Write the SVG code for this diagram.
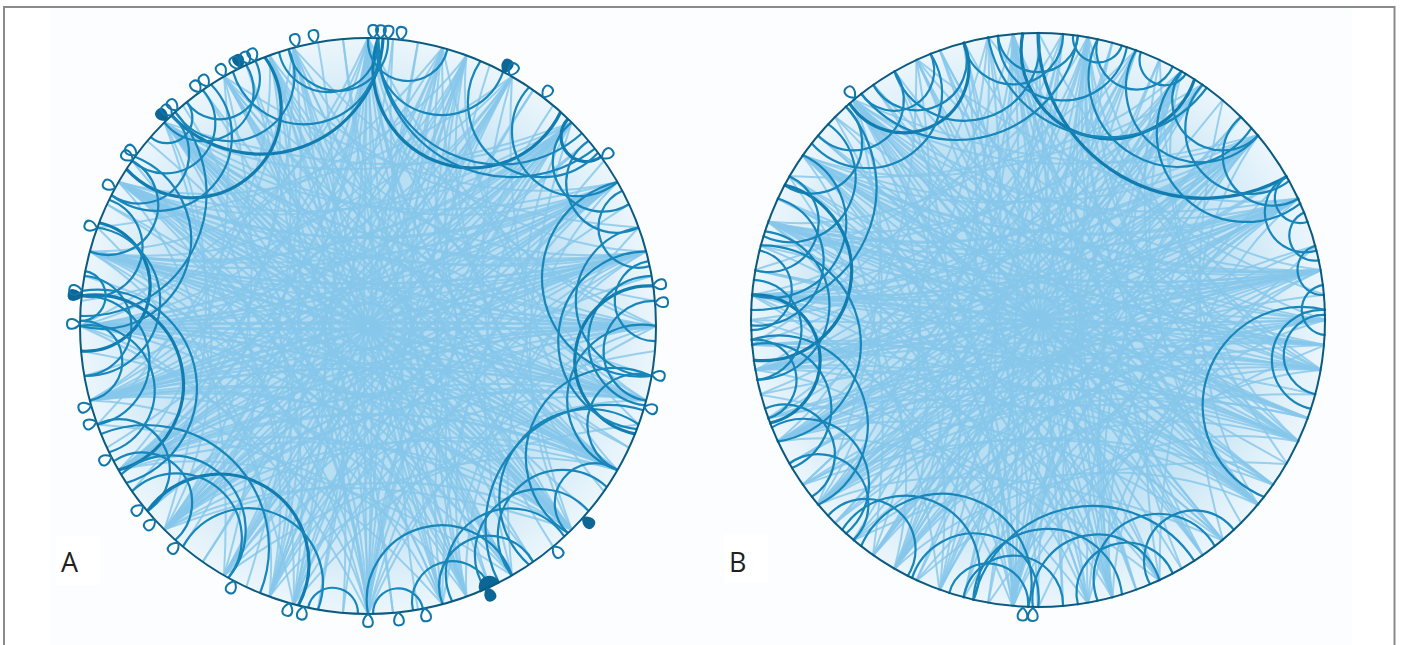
<svg xmlns="http://www.w3.org/2000/svg" width="1402" height="645" viewBox="0 0 1402 645">
<style>
.ch{fill:none;stroke:#86c7ea;stroke-width:2;stroke-opacity:.82}
.dk{fill:none;stroke:#1786ba;stroke-width:2.2}
.dk3{fill:none;stroke:#107cb0;stroke-width:3.2}
.lp{fill:none;stroke:#0f76a9;stroke-width:2}
.lpf{fill:#0d6796;stroke:#0d6796;stroke-width:2}
.rim{fill:none;stroke:#0b5a80;stroke-width:2}
.lbl{font-family:"Open Sans","Liberation Sans",sans-serif;font-size:27px;fill:#231f20}
</style>
<defs>
<radialGradient id="gBase" cx="0" cy="0" r="288" gradientUnits="userSpaceOnUse">
<stop offset="0" stop-color="#8ccaeb" stop-opacity=".75"/>
<stop offset=".65" stop-color="#93cdec" stop-opacity=".6"/>
<stop offset="1" stop-color="#aad8f1" stop-opacity=".2"/>
</radialGradient>
<g id="fan" class="ch">
<path d="M288,0Q0,0 -249.4,144"/>
<path d="M288,0Q10,-5 -278.2,-74.6"/>
<path d="M288,0Q30,20 -144,249.4"/>
<path d="M288,0Q20,-25 -144,-249.4"/>
<path d="M288,0Q70,25 -74.6,278.2"/>
<path d="M288,0Q60,-30 -74.6,-278.2"/>
<path d="M288,0Q0,8 -288,0"/>
<path d="M288,0Q40,10 -203.6,203.6"/>
<path d="M288,0Q40,-15 -203.6,-203.6"/>
<path d="M288,0Q110,45 0,288"/>
<path d="M278.2,74.6Q0,10 -278.2,74.6"/>
<path d="M249.4,144Q-10,0 -249.4,-144"/>
<path d="M278.2,-74.6Q20,0 -203.6,203.6"/>
<path d="M288,0Q120,-50 0,-288"/>
</g>
<path id="d10" d="M-25.1,-286.9A25.2,25.2 0 0 0 25.1,-286.9"/>
<path id="d16" d="M-40.1,-285.2A40.2,40.2 0 0 0 40.1,-285.2"/>
<path id="d20" d="M-50,-283.6A50.1,50.1 0 0 0 50,-283.6"/>
<path id="d26" d="M-64.8,-280.6A65,65 0 0 0 64.8,-280.6"/>
<path id="d30" d="M-74.5,-278.2A74.7,74.7 0 0 0 74.5,-278.2"/>
<path id="d36" d="M-89,-273.9A89.2,89.2 0 0 0 89,-273.9"/>
<path id="d40" d="M-98.5,-270.6A98.7,98.7 0 0 0 98.5,-270.6"/>
<path id="o46" d="M-112.5,-265.1A122.3,122.3 0 0 0 112.5,-265.1"/>
<path id="o50" d="M-121.7,-261A134.3,134.3 0 0 0 121.7,-261"/>
<path id="o60" d="M-144,-249.4A166.3,166.3 0 0 0 144,-249.4"/>
<path id="dot" d="M-10,-287.8A10,10 0 0 0 10,-287.8Z"/>
<path id="lpath" d="M0,-288C-7,-294 -6,-301 0,-301C6,-301 7,-294 0,-288"/>
</defs>

<rect x="0" y="0" width="1402" height="645" fill="#ffffff"/>
<rect x="50" y="8" width="1302" height="637" fill="#fcfdfe"/>
<rect x="4" y="7" width="1390.5" height="660" fill="none" stroke="#8a8a8a" stroke-width="2"/>

<g id="panel-A" transform="translate(368,326)">
<circle r="288" fill="url(#gBase)"/>
<g id="A-chords">
<use href="#fan"/>
<use href="#fan" transform="rotate(15)"/>
<use href="#fan" transform="rotate(165)"/>
<use href="#fan" transform="rotate(180)"/>
<use href="#fan" transform="rotate(195)"/>
<use href="#fan" transform="rotate(345)"/>
<use href="#fan" transform="rotate(270)"/>
<use href="#fan" transform="rotate(90)"/>
<use href="#fan" transform="rotate(250)"/>
<use href="#fan" transform="rotate(290)"/>
<use href="#fan" transform="rotate(45)"/>
<use href="#fan" transform="rotate(135)"/>
<use href="#fan" transform="rotate(225)"/>
<use href="#fan" transform="rotate(315)"/>
<use href="#fan" transform="rotate(110)"/>
<use href="#fan" transform="rotate(70)"/>
<use href="#fan" transform="rotate(30)"/>
<use href="#fan" transform="rotate(210)"/>
<use href="#fan" transform="rotate(150)"/>
<use href="#fan" transform="rotate(330)"/>
</g>
<g id="A-arcs">
<use href="#o46" class="dk3" transform="rotate(-20)"/>
<use href="#d30" class="dk" transform="rotate(-13)"/>
<use href="#d20" class="dk" transform="rotate(-8)"/>
<use href="#d26" class="dk" transform="rotate(15)"/>
<use href="#d40" class="dk3" transform="rotate(22)"/>
<use href="#o50" class="dk" transform="rotate(27)"/>
<use href="#d16" class="dk" transform="rotate(8)"/>
<use href="#d20" class="dk" transform="rotate(-6)"/>
<use href="#o46" class="dk" transform="rotate(25)"/>
<use href="#d20" class="dk" transform="rotate(-45)"/>
<use href="#d20" class="dk" transform="rotate(-35)"/>
<use href="#d26" class="dk" transform="rotate(-29)"/>
<use href="#d36" class="dk3" transform="rotate(-39)"/>
<use href="#d16" class="dk" transform="rotate(-31)"/>
<use href="#d20" class="dk" transform="rotate(-53)"/>
<use href="#d10" class="dk" transform="rotate(-44)"/>
<use href="#d30" class="dk" transform="rotate(-48)"/>
<use href="#d20" class="dk" transform="rotate(-90)"/>
<use href="#d26" class="dk3" transform="rotate(-82)"/>
<use href="#d26" class="dk" transform="rotate(-97)"/>
<use href="#d36" class="dk" transform="rotate(-72)"/>
<use href="#d20" class="dk" transform="rotate(-74)"/>
<use href="#d36" class="dk3" transform="rotate(-102)"/>
<use href="#o46" class="dk" transform="rotate(-65)"/>
<use href="#d20" class="dk" transform="rotate(-65)"/>
<use href="#d16" class="dk" transform="rotate(-97)"/>
<use href="#d26" class="dk" transform="rotate(-103)"/>
<use href="#d40" class="dk" transform="rotate(-103)"/>
<use href="#d10" class="dk" transform="rotate(-84)"/>
<use href="#d30" class="dk" transform="rotate(-85)"/>
<use href="#d20" class="dk" transform="rotate(-120)"/>
<use href="#d30" class="dk" transform="rotate(-136)"/>
<use href="#d36" class="dk3" transform="rotate(-148)"/>
<use href="#d26" class="dk" transform="rotate(-138)"/>
<use href="#d30" class="dk" transform="rotate(-155)"/>
<use href="#o46" class="dk" transform="rotate(-135)"/>
<use href="#d20" class="dk" transform="rotate(-128)"/>
<use href="#d10" class="dk" transform="rotate(174)"/>
<use href="#d10" class="dk" transform="rotate(-173)"/>
<use href="#d16" class="dk" transform="rotate(163)"/>
<use href="#d20" class="dk" transform="rotate(155)"/>
<use href="#d30" class="dk" transform="rotate(165)"/>
<use href="#d26" class="dk" transform="rotate(150)"/>
<use href="#d26" class="dk" transform="rotate(137)"/>
<use href="#d36" class="dk" transform="rotate(128)"/>
<use href="#d16" class="dk" transform="rotate(128)"/>
<use href="#d26" class="dk" transform="rotate(143)"/>
<use href="#d36" class="dk" transform="rotate(118)"/>
<use href="#o46" class="dk" transform="rotate(130)"/>
<use href="#d26" class="dk" transform="rotate(93)"/>
<use href="#d30" class="dk3" transform="rotate(97)"/>
<use href="#d30" class="dk" transform="rotate(85)"/>
<use href="#d36" class="dk" transform="rotate(93)"/>
<use href="#d20" class="dk" transform="rotate(95)"/>
<use href="#d40" class="dk" transform="rotate(80)"/>
<use href="#d30" class="dk" transform="rotate(105)"/>
<use href="#d20" class="dk" transform="rotate(110)"/>
<use href="#d16" class="dk" transform="rotate(85)"/>
<use href="#d26" class="dk" transform="rotate(47)"/>
<use href="#d20" class="dk" transform="rotate(55)"/>
<use href="#d20" class="dk" transform="rotate(60)"/>
<use href="#d10" class="dk3" transform="rotate(49)"/>
<use href="#d16" class="dk" transform="rotate(70)"/>
<use href="#d30" class="dk" transform="rotate(38)"/>
<use href="#dot" class="lpf" transform="rotate(155)"/>
</g>
<circle r="288" class="rim"/>
<g id="A-loops">
<use href="#lpath" class="lp" transform="rotate(345.7)"/>
<use href="#lpath" class="lp" transform="rotate(349.4)"/>
<use href="#lpath" class="lp" transform="rotate(1)"/>
<use href="#lpath" class="lp" transform="rotate(2.5)"/>
<use href="#lpath" class="lp" transform="rotate(4)"/>
<use href="#lpath" class="lp" transform="rotate(6.5)"/>
<use href="#lpath" class="lpf" transform="rotate(334)"/>
<use href="#lpath" class="lp" transform="rotate(335.5)"/>
<use href="#lpath" class="lp" transform="rotate(337)"/>
<use href="#lpath" class="lp" transform="rotate(330.2)"/>
<use href="#lpath" class="lp" transform="rotate(333.2)"/>
<use href="#lpath" class="lp" transform="rotate(324.3)"/>
<use href="#lpath" class="lp" transform="rotate(326.3)"/>
<use href="#lpath" class="lpf" transform="rotate(315.7)"/>
<use href="#lpath" class="lp" transform="rotate(317)"/>
<use href="#lpath" class="lp" transform="rotate(318.5)"/>
<use href="#lpath" class="lp" transform="rotate(305.2)"/>
<use href="#lpath" class="lp" transform="rotate(306.5)"/>
<use href="#lpath" class="lp" transform="rotate(298.5)"/>
<use href="#lpath" class="lp" transform="rotate(289.8)"/>
<use href="#lpath" class="lpf" transform="rotate(276)"/>
<use href="#lpath" class="lp" transform="rotate(277)"/>
<use href="#lpath" class="lp" transform="rotate(270.4)"/>
<use href="#lpath" class="lp" transform="rotate(254)"/>
<use href="#lpath" class="lp" transform="rotate(250.6)"/>
<use href="#lpath" class="lp" transform="rotate(243)"/>
<use href="#lpath" class="lp" transform="rotate(231.4)"/>
<use href="#lpath" class="lp" transform="rotate(227.7)"/>
<use href="#lpath" class="lp" transform="rotate(221.2)"/>
<use href="#lpath" class="lp" transform="rotate(207.6)"/>
<use href="#lpath" class="lp" transform="rotate(195.8)"/>
<use href="#lpath" class="lp" transform="rotate(192.9)"/>
<use href="#lpath" class="lp" transform="rotate(180)"/>
<use href="#lpath" class="lp" transform="rotate(174)"/>
<use href="#lpath" class="lp" transform="rotate(168.7)"/>
<use href="#lpath" class="lpf" transform="rotate(155.6)"/>
<use href="#lpath" class="lp" transform="rotate(140)"/>
<use href="#lpath" class="lpf" transform="rotate(131.7)"/>
<use href="#lpath" class="lp" transform="rotate(106.3)"/>
<use href="#lpath" class="lp" transform="rotate(99.7)"/>
<use href="#lpath" class="lp" transform="rotate(85.4)"/>
<use href="#lpath" class="lp" transform="rotate(81.9)"/>
<use href="#lpath" class="lp" transform="rotate(54.3)"/>
<use href="#lpath" class="lp" transform="rotate(37.4)"/>
<use href="#lpath" class="lpf" transform="rotate(28.1)"/>
<use href="#lpath" class="lp" transform="rotate(29.5)"/>
</g>
</g>

<g id="panel-B" transform="translate(1038,320)">
<circle r="287" fill="url(#gBase)"/>
<g id="B-chords">
<use href="#fan"/>
<use href="#fan" transform="rotate(10)"/>
<use href="#fan" transform="rotate(170)"/>
<use href="#fan" transform="rotate(185)"/>
<use href="#fan" transform="rotate(200)"/>
<use href="#fan" transform="rotate(350)"/>
<use href="#fan" transform="rotate(265)"/>
<use href="#fan" transform="rotate(280)"/>
<use href="#fan" transform="rotate(95)"/>
<use href="#fan" transform="rotate(75)"/>
<use href="#fan" transform="rotate(40)"/>
<use href="#fan" transform="rotate(140)"/>
<use href="#fan" transform="rotate(230)"/>
<use href="#fan" transform="rotate(320)"/>
<use href="#fan" transform="rotate(120)"/>
<use href="#fan" transform="rotate(300)"/>
<use href="#fan" transform="rotate(25)"/>
<use href="#fan" transform="rotate(215)"/>
<use href="#fan" transform="rotate(155)"/>
<use href="#fan" transform="rotate(335)"/>
</g>
<g id="B-arcs">
<use href="#o60" class="dk3" transform="rotate(30)"/>
<use href="#o46" class="dk" transform="rotate(-15)"/>
<use href="#d30" class="dk" transform="rotate(-15)"/>
<use href="#d36" class="dk3" transform="rotate(15)"/>
<use href="#d30" class="dk" transform="rotate(35)"/>
<use href="#d26" class="dk" transform="rotate(48)"/>
<use href="#d20" class="dk" transform="rotate(55)"/>
<use href="#d20" class="dk" transform="rotate(-5)"/>
<use href="#d26" class="dk" transform="rotate(5)"/>
<use href="#d16" class="dk" transform="rotate(20)"/>
<use href="#d20" class="dk" transform="rotate(-25)"/>
<use href="#d16" class="dk" transform="rotate(-30)"/>
<use href="#d26" class="dk3" transform="rotate(-28)"/>
<use href="#d36" class="dk" transform="rotate(30)"/>
<use href="#o46" class="dk" transform="rotate(13)"/>
<use href="#d20" class="dk" transform="rotate(40)"/>
<use href="#d10" class="dk" transform="rotate(12)"/>
<use href="#d10" class="dk" transform="rotate(26)"/>
<use href="#d16" class="dk" transform="rotate(0)"/>
<use href="#d30" class="dk" transform="rotate(-37)"/>
<use href="#d20" class="dk" transform="rotate(-40)"/>
<use href="#d36" class="dk" transform="rotate(48)"/>
<use href="#d10" class="dk" transform="rotate(65)"/>
<use href="#d16" class="dk" transform="rotate(68)"/>
<use href="#d26" class="dk" transform="rotate(-108)"/>
<use href="#d26" class="dk3" transform="rotate(-98)"/>
<use href="#d30" class="dk" transform="rotate(-87)"/>
<use href="#d26" class="dk" transform="rotate(-78)"/>
<use href="#d30" class="dk" transform="rotate(-70)"/>
<use href="#d26" class="dk" transform="rotate(-60)"/>
<use href="#d20" class="dk" transform="rotate(-52)"/>
<use href="#d36" class="dk3" transform="rotate(-80)"/>
<use href="#d20" class="dk" transform="rotate(-92)"/>
<use href="#d16" class="dk" transform="rotate(-102)"/>
<use href="#d20" class="dk" transform="rotate(-118)"/>
<use href="#d36" class="dk" transform="rotate(-112)"/>
<use href="#d20" class="dk" transform="rotate(-70)"/>
<use href="#d16" class="dk" transform="rotate(-84)"/>
<use href="#d40" class="dk" transform="rotate(-95)"/>
<use href="#o46" class="dk" transform="rotate(-65)"/>
<use href="#d20" class="dk" transform="rotate(-130)"/>
<use href="#d26" class="dk" transform="rotate(-125)"/>
<use href="#d26" class="dk" transform="rotate(168)"/>
<use href="#d26" class="dk" transform="rotate(-167)"/>
<use href="#d30" class="dk" transform="rotate(178)"/>
<use href="#d20" class="dk" transform="rotate(-175)"/>
<use href="#d36" class="dk" transform="rotate(-160)"/>
<use href="#d26" class="dk" transform="rotate(155)"/>
<use href="#d20" class="dk" transform="rotate(162)"/>
<use href="#d16" class="dk" transform="rotate(-170)"/>
<use href="#o46" class="dk" transform="rotate(170)"/>
<use href="#d30" class="dk" transform="rotate(-152)"/>
<use href="#d20" class="dk" transform="rotate(-143)"/>
<use href="#d20" class="dk" transform="rotate(147)"/>
<use href="#d10" class="dk" transform="rotate(80)"/>
<use href="#d10" class="dk" transform="rotate(88)"/>
<use href="#d16" class="dk" transform="rotate(97)"/>
<use href="#d20" class="dk" transform="rotate(98)"/>
<use href="#d40" class="dk" transform="rotate(108)"/>
<use href="#d10" class="dk" transform="rotate(73)"/>
</g>
<circle r="287" class="rim"/>
<g id="B-loops">
<use href="#lpath" class="lp" transform="rotate(181)"/>
<use href="#lpath" class="lp" transform="rotate(183)"/>
<use href="#lpath" class="lp" transform="rotate(320.5)"/>
</g>
</g>

<g id="label-A">
<rect x="56" y="536" width="44" height="49" fill="#ffffff"/>
<text x="61" y="572" class="lbl">A</text>
</g>
<g id="label-B">
<rect x="724" y="534" width="44" height="49" fill="#ffffff"/>
<text x="729" y="572" class="lbl">B</text>
</g>
</svg>
